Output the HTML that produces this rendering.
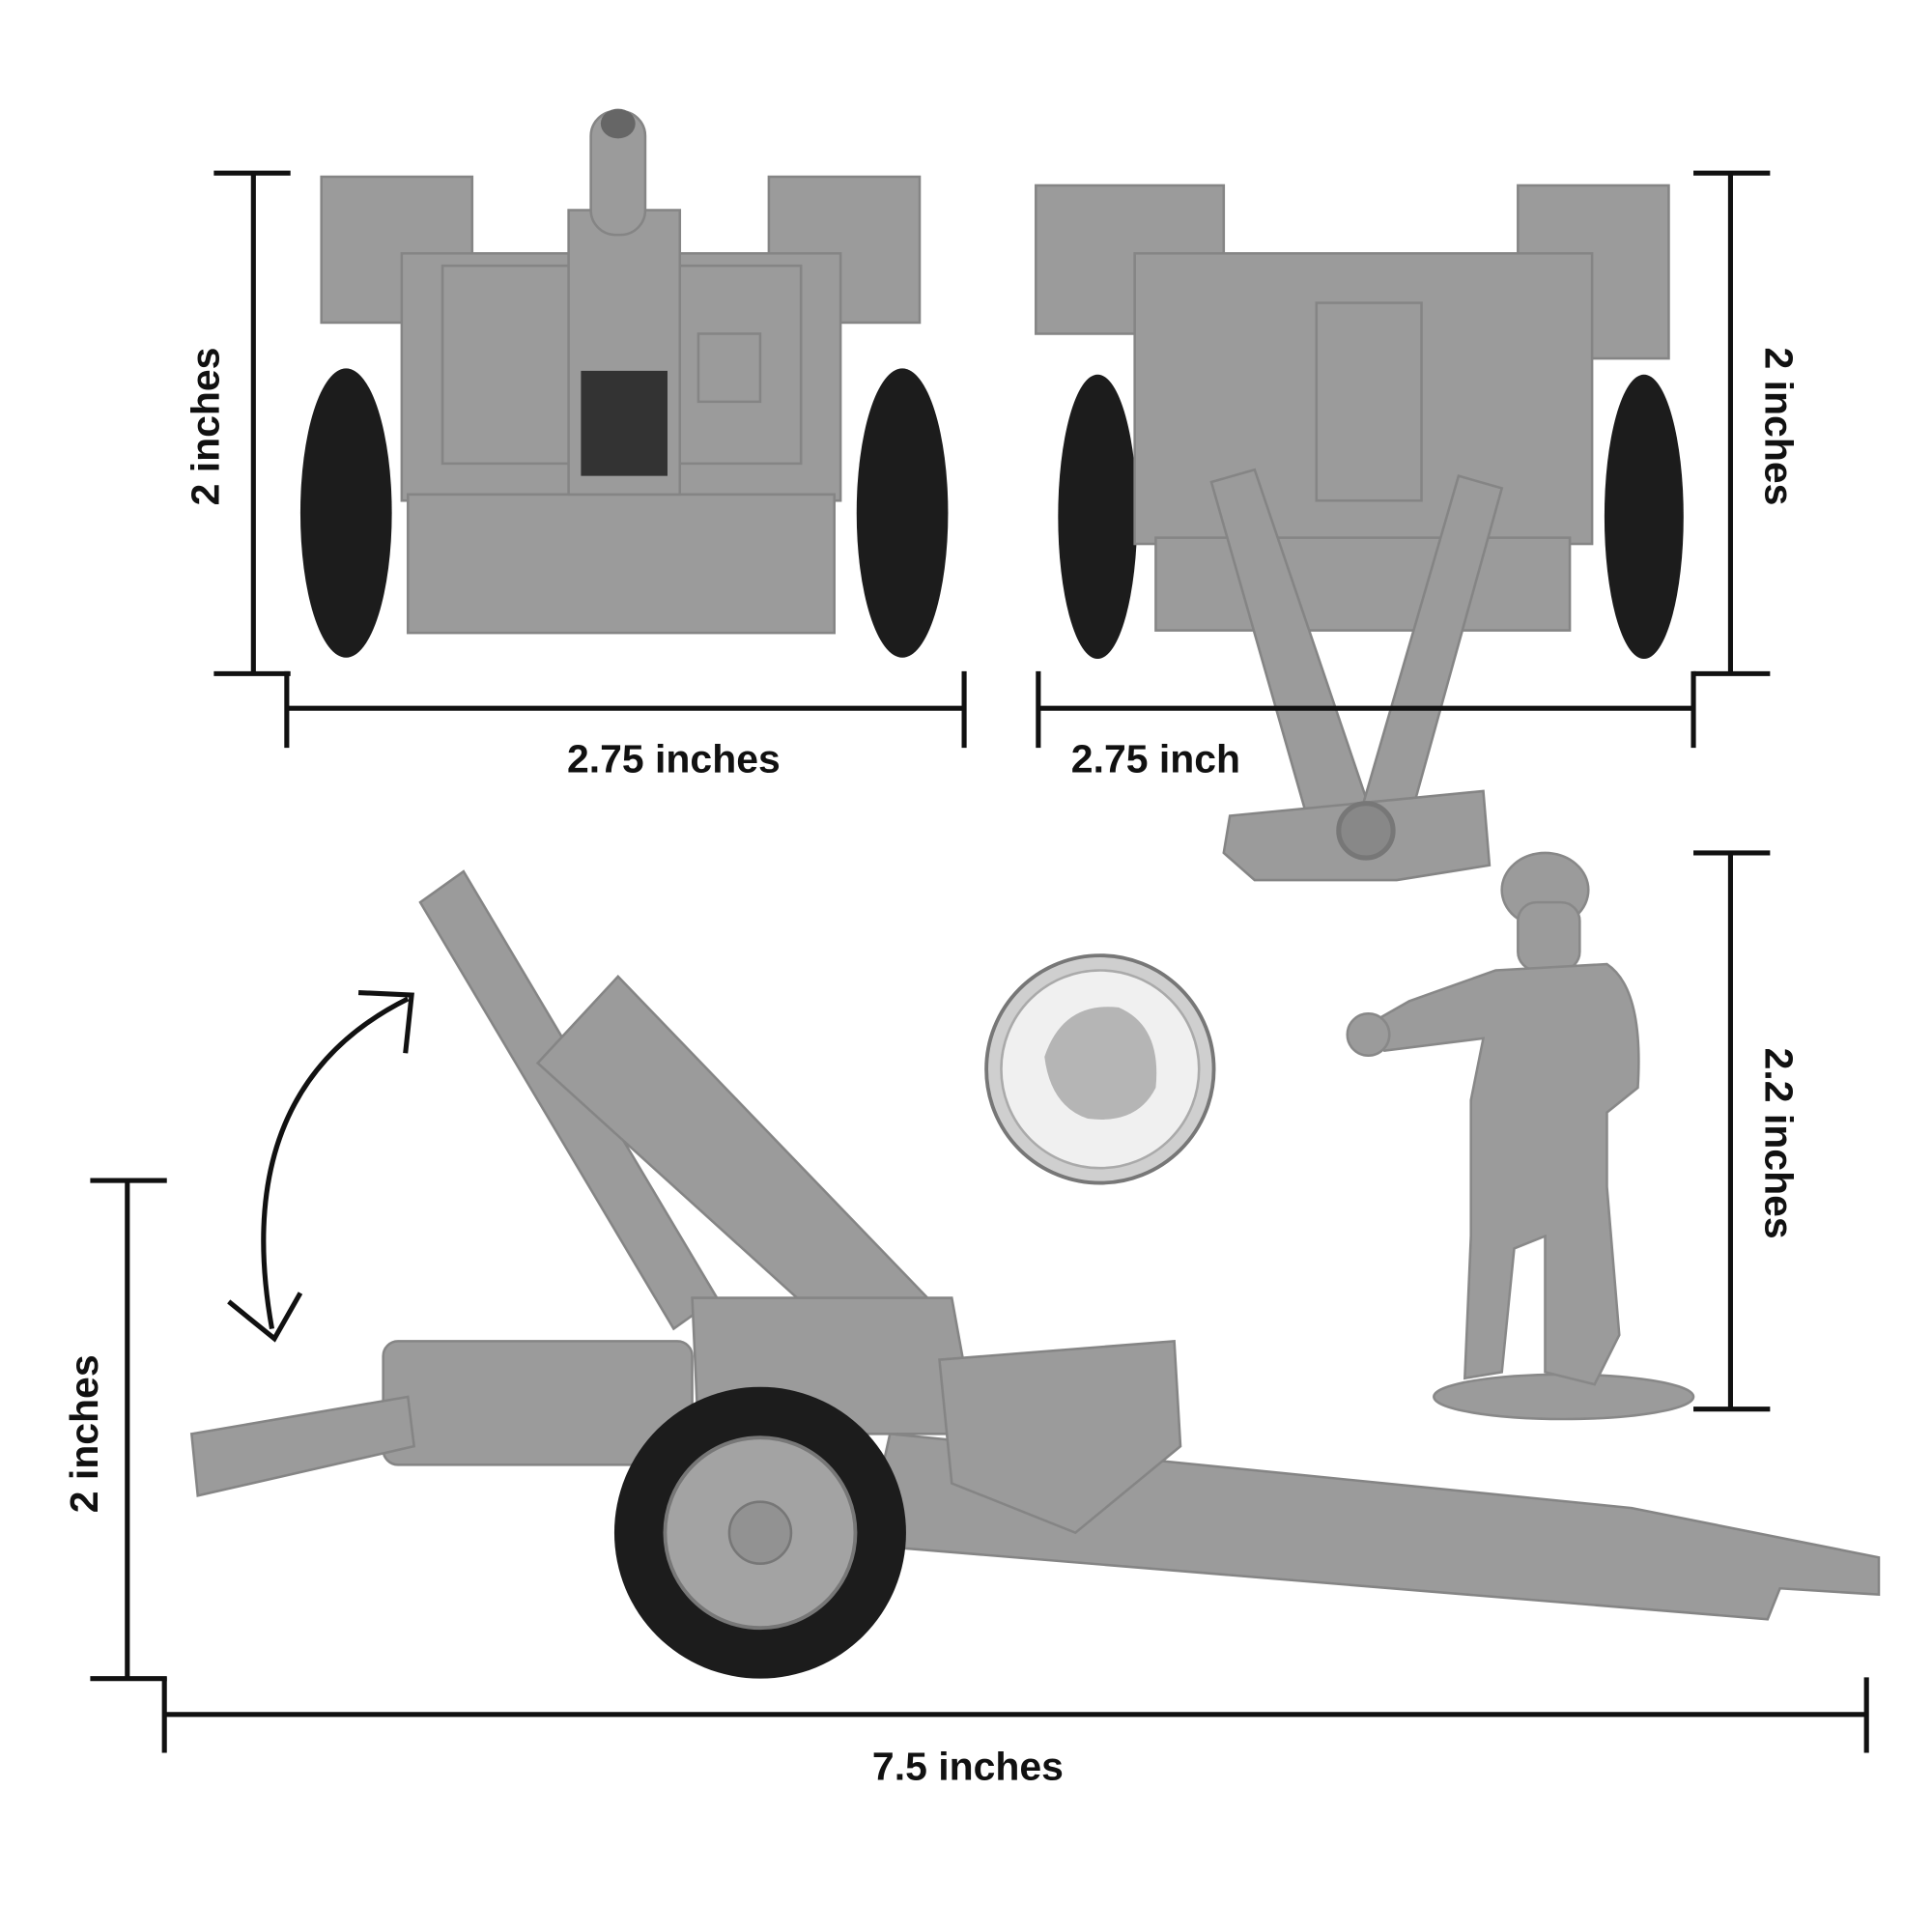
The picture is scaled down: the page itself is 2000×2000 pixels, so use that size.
<!DOCTYPE html>
<html><head><style>html,body{margin:0;padding:0;background:#fff}svg{display:block}</style></head>
<body>
<svg width="2000" height="2000" viewBox="0 0 1563 1563" xmlns="http://www.w3.org/2000/svg">
<rect width="1563" height="1563" fill="#fff"/>
<!-- Front view (top-left) -->
<g fill="#9b9b9b" stroke="#858585" stroke-width="2">
<rect x="260" y="143" width="122" height="118"/>
<rect x="622" y="143" width="122" height="118"/>
<rect x="325" y="205" width="355" height="200"/>
<rect x="358" y="215" width="290" height="160"/>
<rect x="330" y="400" width="345" height="112"/>
<rect x="460" y="170" width="90" height="230"/>
<rect x="478" y="90" width="44" height="100" rx="20"/>
<rect x="565" y="270" width="50" height="55"/>
</g>
<rect x="470" y="300" width="70" height="85" fill="#333"/>
<ellipse cx="500" cy="100" rx="14" ry="12" fill="#666"/>
<g fill="#1c1c1c"><ellipse cx="280" cy="415" rx="37" ry="117"/><ellipse cx="730" cy="415" rx="37" ry="117"/>
<ellipse cx="888" cy="418" rx="32" ry="115"/><ellipse cx="1330" cy="418" rx="32" ry="115"/></g>
<!-- Rear view (top-right) -->
<g fill="#9b9b9b" stroke="#858585" stroke-width="2">
<rect x="838" y="150" width="152" height="120"/>
<rect x="1228" y="150" width="122" height="140"/>
<rect x="918" y="205" width="370" height="235"/>
<rect x="935" y="435" width="335" height="75"/>
<rect x="1065" y="245" width="85" height="160"/>
<polygon points="980,390 1015,380 1110,660 1060,670"/>
<polygon points="1180,385 1215,395 1140,665 1100,660"/>
<polygon points="995,660 1200,640 1205,700 1130,712 1015,712 990,690"/>
</g>
<circle cx="1105" cy="672" r="22" fill="#888" stroke="#777" stroke-width="4"/>
<!-- Coin -->
<circle cx="890" cy="865" r="92" fill="#cfcfcf" stroke="#777" stroke-width="3"/>
<circle cx="890" cy="865" r="80" fill="#f0f0f0" stroke="#aaa" stroke-width="2"/>
<path d="M845 855 Q860 810 905 815 Q940 830 935 880 Q920 910 880 905 Q850 895 845 855Z" fill="#b5b5b5"/>
<!-- Soldier -->
<g fill="#9b9b9b" stroke="#888" stroke-width="2">
<ellipse cx="1265" cy="1130" rx="105" ry="18"/>
<ellipse cx="1250" cy="720" rx="35" ry="30"/>
<rect x="1228" y="730" width="50" height="55" rx="15"/>
<path d="M1210 785 L1300 780 Q1330 800 1325 880 L1300 900 L1300 960 L1310 1080 L1290 1120 L1250 1110 L1250 1000 L1225 1010 L1215 1110 L1185 1115 L1190 1000 L1190 890 L1200 840 L1120 850 L1105 830 L1140 810 Z"/>
<circle cx="1107" cy="837" r="17"/>
</g>
<!-- Howitzer side view -->
<g fill="#9b9b9b" stroke="#858585" stroke-width="2">
<polygon points="340,730 375,705 580,1050 545,1075"/>
<polygon points="435,860 500,790 760,1060 700,1100"/>
<polygon points="560,1050 770,1050 790,1160 565,1160"/>
<rect x="310" y="1085" width="250" height="100" rx="12"/>
<polygon points="155,1160 330,1130 335,1170 160,1210"/>
<polygon points="720,1160 1320,1220 1520,1260 1520,1290 1440,1285 1430,1310 700,1250"/>
<polygon points="760,1100 950,1085 955,1170 870,1240 770,1200"/>
</g>
<circle cx="615" cy="1240" r="118" fill="#1c1c1c"/>
<circle cx="615" cy="1240" r="77" fill="#a3a3a3" stroke="#777" stroke-width="3"/>
<circle cx="615" cy="1240" r="25" fill="#929292" stroke="#777" stroke-width="2"/>
<!-- Arrow -->
<path d="M220 1075 Q185 880 330 808" fill="none" stroke="#111" stroke-width="4"/>
<polyline points="290,803 333,805 328,852" fill="none" stroke="#111" stroke-width="4"/>
<polyline points="185,1053 222,1083 243,1046" fill="none" stroke="#111" stroke-width="4"/>
<!-- Dimension lines -->
<g stroke="#111" stroke-width="4" fill="none">
<line x1="205" y1="140" x2="205" y2="545"/><line x1="173" y1="140" x2="235" y2="140"/><line x1="173" y1="545" x2="235" y2="545"/>
<line x1="232" y1="573" x2="780" y2="573"/><line x1="232" y1="543" x2="232" y2="605"/><line x1="780" y1="543" x2="780" y2="605"/>
<line x1="1400" y1="140" x2="1400" y2="545"/><line x1="1370" y1="140" x2="1432" y2="140"/><line x1="1370" y1="545" x2="1432" y2="545"/>
<line x1="840" y1="573" x2="1370" y2="573"/><line x1="840" y1="543" x2="840" y2="605"/><line x1="1370" y1="543" x2="1370" y2="605"/>
<line x1="1400" y1="690" x2="1400" y2="1140"/><line x1="1370" y1="690" x2="1432" y2="690"/><line x1="1370" y1="1140" x2="1432" y2="1140"/>
<line x1="103" y1="955" x2="103" y2="1358"/><line x1="73" y1="955" x2="135" y2="955"/><line x1="73" y1="1358" x2="135" y2="1358"/>
<line x1="133" y1="1387" x2="1510" y2="1387"/><line x1="133" y1="1357" x2="133" y2="1418"/><line x1="1510" y1="1357" x2="1510" y2="1418"/>
</g>
<g font-family="Liberation Sans, sans-serif" font-weight="bold" font-size="32" fill="#111" text-anchor="middle">
<text x="545" y="625">2.75 inches</text>
<text x="935" y="625">2.75 inch</text>
<text x="783" y="1440">7.5 inches</text>
<text transform="translate(177,345) rotate(-90)">2 inches</text>
<text transform="translate(1428,345) rotate(90)">2 inches</text>
<text transform="translate(1428,925) rotate(90)">2.2 inches</text>
<text transform="translate(79,1160) rotate(-90)">2 inches</text>
</g>
</svg>
</body></html>
